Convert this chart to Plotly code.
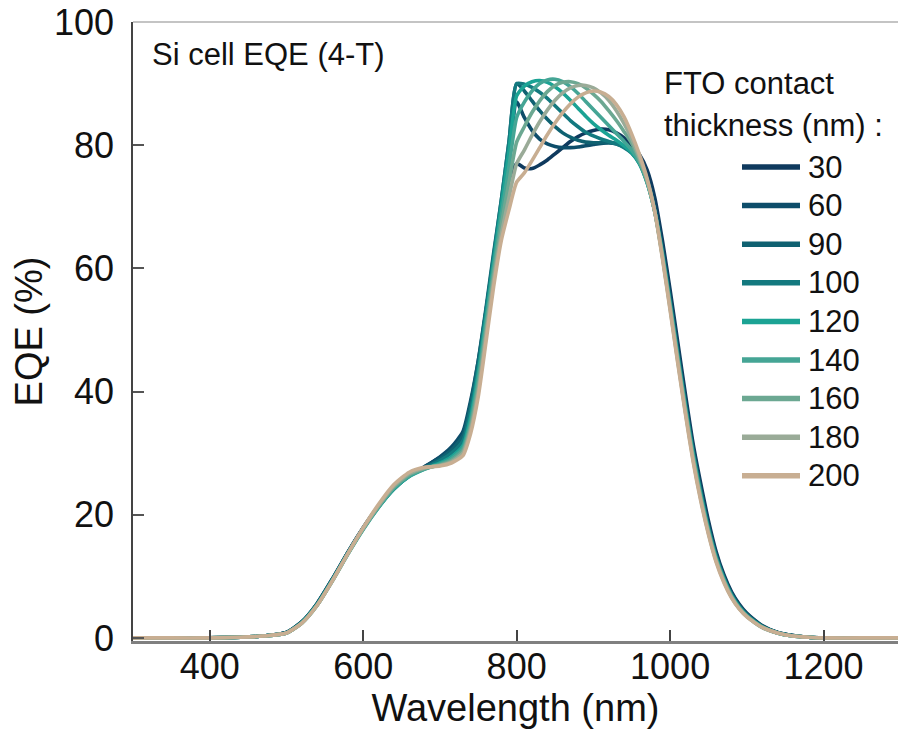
import plotly.graph_objects as go

# ---------------- data ----------------
wavelength = [300, 350, 400, 440, 470, 500, 520, 540, 560, 580, 600, 620, 640, 660, 680, 700,
              715, 730, 740, 750, 760, 770, 780, 790,
              800, 810, 820, 830, 840, 850, 860, 870, 880, 890, 900, 910, 920, 930, 940, 950,
              960, 970, 980, 990, 1000, 1010, 1020, 1030, 1040, 1050, 1060, 1070, 1080, 1090,
              1100, 1120, 1140, 1160, 1180, 1200, 1250, 1300]

thickness = ["30", "60", "90", "100", "120", "140", "160", "180", "200"]
colors = ["#0f3a5e", "#0d4d6a", "#0f6171", "#13797f", "#1ba394", "#45a595", "#6ca892", "#9aab98", "#c8ae92"]

eqe_30 = [0, 0, 0, 0.1, 0.3, 0.9, 2.6, 5.6, 9.6, 13.9, 17.9, 21.4, 24.3, 26.4, 27.8, 29.3,
          30.8, 33.2, 37.8, 44.0, 52.0, 60.0, 67.5, 74.5,
          77.0, 76.3, 76.2, 76.8, 77.6, 78.6, 79.6, 80.6, 81.4, 82.0, 82.4, 82.6, 82.5, 82.0, 81.2, 80.0,
          78.5, 76.0, 71.5, 64.5, 56.5, 48.0, 39.5, 31.5, 25.0, 19.0, 14.0, 10.3, 7.5, 5.5,
          4.0, 2.0, 0.9, 0.4, 0.1, 0, 0, 0]
eqe_60 = [0, 0, 0, 0.1, 0.3, 0.9, 2.6, 5.6, 9.6, 13.9, 17.9, 21.4, 24.3, 26.4, 27.8, 29.4,
          31.0, 33.5, 38.5, 45.0, 53.0, 61.5, 69.5, 77.5,
          87.0, 84.5, 82.4, 81.0, 80.2, 79.8, 79.6, 79.6, 79.7, 79.9, 80.1, 80.3, 80.4, 80.3, 79.9, 79.2,
          77.8, 74.8, 70.2, 63.5, 55.5, 47.0, 38.5, 30.8, 24.2, 18.4, 13.6, 10.0, 7.3, 5.3,
          3.9, 1.9, 0.9, 0.4, 0.1, 0, 0, 0]
eqe_90 = [0, 0, 0, 0.1, 0.3, 0.9, 2.6, 5.5, 9.5, 13.8, 17.8, 21.3, 24.2, 26.3, 27.7, 29.1,
          30.5, 32.8, 38.0, 45.0, 53.5, 62.5, 71.0, 80.5,
          90.0, 88.8, 87.2, 85.6, 84.2, 83.0, 82.0, 81.3, 80.8, 80.5, 80.4, 80.4, 80.4, 80.2, 79.7, 78.8,
          77.2, 74.2, 69.6, 62.8, 54.8, 46.3, 38.0, 30.3, 23.8, 18.0, 13.3, 9.8, 7.1, 5.2,
          3.8, 1.9, 0.9, 0.4, 0.1, 0, 0, 0]
eqe_100 = [0, 0, 0, 0.1, 0.3, 0.8, 2.5, 5.5, 9.5, 13.8, 17.8, 21.3, 24.2, 26.3, 27.6, 28.8,
           30.0, 32.0, 37.0, 44.0, 53.0, 62.0, 71.0, 80.5,
           90.0, 89.9, 89.4, 88.6, 87.6, 86.4, 85.2, 84.0, 83.0, 82.1, 81.5, 81.0, 80.6, 80.2, 79.6, 78.7,
           77.0, 74.0, 69.3, 62.5, 54.5, 46.0, 37.7, 30.0, 23.5, 17.8, 13.2, 9.7, 7.0, 5.1,
           3.7, 1.8, 0.8, 0.3, 0.1, 0, 0, 0]
eqe_120 = [0, 0, 0, 0.1, 0.3, 0.8, 2.5, 5.4, 9.4, 13.7, 17.7, 21.2, 24.2, 26.2, 27.4, 28.4,
           29.4, 31.2, 35.8, 43.0, 52.0, 61.0, 70.0, 79.0,
           88.0, 89.6, 90.3, 90.5, 90.2, 89.5, 88.5, 87.3, 86.0, 84.7, 83.5, 82.5, 81.6, 80.8, 79.9, 78.8,
           77.0, 73.9, 69.2, 62.3, 54.2, 45.8, 37.5, 29.8, 23.3, 17.6, 13.0, 9.6, 6.9, 5.0,
           3.6, 1.8, 0.8, 0.3, 0.1, 0, 0, 0]
eqe_140 = [0, 0, 0, 0.1, 0.3, 0.8, 2.4, 5.3, 9.3, 13.6, 17.6, 21.2, 24.3, 26.3, 27.4, 28.2,
           29.1, 30.8, 35.0, 42.0, 51.0, 60.0, 68.5, 76.5,
           84.5, 87.0, 88.8, 90.0, 90.6, 90.7, 90.3, 89.5, 88.4, 87.1, 85.8, 84.5, 83.2, 81.9, 80.6, 79.2,
           77.2, 74.0, 69.2, 62.2, 54.0, 45.5, 37.2, 29.5, 23.0, 17.4, 12.8, 9.4, 6.8, 4.9,
           3.6, 1.8, 0.8, 0.3, 0.1, 0, 0, 0]
eqe_160 = [0, 0, 0, 0.1, 0.3, 0.8, 2.4, 5.3, 9.3, 13.6, 17.7, 21.4, 24.5, 26.5, 27.5, 28.1,
           28.8, 30.4, 34.4, 41.0, 50.0, 59.0, 67.0, 74.0,
           80.5, 83.0, 85.3, 87.2, 88.7, 89.7, 90.2, 90.3, 90.0, 89.3, 88.3, 87.1, 85.6, 84.0, 82.2, 80.3,
           77.6, 74.2, 69.2, 62.0, 53.8, 45.2, 36.9, 29.2, 22.7, 17.2, 12.6, 9.3, 6.7, 4.8,
           3.5, 1.7, 0.8, 0.3, 0.1, 0, 0, 0]
eqe_180 = [0, 0, 0, 0.1, 0.3, 0.8, 2.4, 5.3, 9.3, 13.7, 17.8, 21.5, 24.7, 26.7, 27.6, 28.0,
           28.6, 30.0, 33.8, 40.0, 49.0, 58.0, 65.5, 71.5,
           77.0, 79.2, 81.6, 83.8, 85.7, 87.3, 88.5, 89.3, 89.7, 89.7, 89.3, 88.5, 87.3, 85.6, 83.5, 81.0,
           78.0, 74.4, 69.2, 61.8, 53.5, 44.9, 36.6, 28.9, 22.5, 17.0, 12.5, 9.2, 6.6, 4.8,
           3.5, 1.7, 0.8, 0.3, 0.1, 0, 0, 0]
eqe_200 = [0, 0, 0, 0.1, 0.3, 0.8, 2.4, 5.3, 9.3, 13.7, 17.9, 21.7, 24.9, 26.9, 27.7, 27.9,
           28.4, 29.6, 33.2, 39.2, 48.0, 57.0, 64.5, 69.5,
           74.0, 75.5, 77.5, 79.6, 81.7, 83.6, 85.3, 86.7, 87.8, 88.5, 88.8, 88.6, 87.9, 86.6, 84.6, 81.8,
           78.5, 74.6, 69.2, 61.6, 53.2, 44.6, 36.3, 28.6, 22.2, 16.8, 12.3, 9.0, 6.5, 4.7,
           3.4, 1.7, 0.8, 0.3, 0.1, 0, 0, 0]

series = [eqe_30, eqe_60, eqe_90, eqe_100, eqe_120, eqe_140, eqe_160, eqe_180, eqe_200]

x_ticks = [400, 600, 800, 1000, 1200]
y_ticks = [0, 20, 40, 60, 80, 100]

# ---------------- layout geometry ----------------
W, H = 898, 755
ML, MR, MT, MB = 133, 0, 22, 114
PW, PH = W - ML - MR, H - MT - MB
FONT = "Liberation Sans, Arial, sans-serif"


def px_x(p):
    return (p - ML) / PW


def px_y(p):
    return (H - MB - p) / PH


fig = go.Figure()
for name, vals, col in zip(thickness, series, colors):
    fig.add_trace(go.Scatter(x=wavelength, y=vals, mode="lines", name=name,
                             line=dict(color=col, width=3.6, shape="spline", smoothing=0.6),
                             showlegend=False))

shapes = []
annotations = []
# top frame line
shapes.append(dict(type="line", xref="paper", yref="paper", x0=0, x1=1, y0=1, y1=1,
                   line=dict(color="#8a8a8a", width=1.2)))

# manual legend
row0, dy = 167, 38.6
for i, (name, col) in enumerate(zip(thickness, colors)):
    yy = px_y(row0 + i * dy)
    shapes.append(dict(type="line", xref="paper", yref="paper", x0=px_x(742), x1=px_x(800),
                       y0=yy, y1=yy, line=dict(color=col, width=5.5)))
    annotations.append(dict(xref="paper", yref="paper", x=px_x(806), y=yy, text=name,
                            showarrow=False, xanchor="left", yanchor="middle",
                            font=dict(family=FONT, size=31, color="#111")))
annotations.append(dict(xref="paper", yref="paper", x=px_x(662), y=px_y(83), text="FTO contact",
                        showarrow=False, xanchor="left", yanchor="middle",
                        font=dict(family=FONT, size=31, color="#111")))
annotations.append(dict(xref="paper", yref="paper", x=px_x(662), y=px_y(125), text="thickness (nm) :",
                        showarrow=False, xanchor="left", yanchor="middle",
                        font=dict(family=FONT, size=31, color="#111")))
annotations.append(dict(xref="paper", yref="paper", x=px_x(150), y=px_y(54), text="Si cell EQE (4-T)",
                        showarrow=False, xanchor="left", yanchor="middle",
                        font=dict(family=FONT, size=31, color="#111")))

fig.update_layout(
    width=W, height=H,
    margin=dict(l=ML, r=MR, t=MT, b=MB, pad=0),
    paper_bgcolor="white", plot_bgcolor="white",
    shapes=shapes, annotations=annotations,
    font=dict(family=FONT, color="#111"),
)
fig.update_xaxes(range=[300, 1297], tickvals=x_ticks, ticks="inside", ticklen=11, tickwidth=1.5,
                 tickcolor="#444", showline=True, linecolor="#808080", linewidth=2.5,
                 showgrid=False, zeroline=False, ticklabelstandoff=-8,
                 tickfont=dict(family=FONT, size=36, color="#111"),
                 title=dict(text="Wavelength (nm)", font=dict(family=FONT, size=38, color="#111"),
                            standoff=0))
fig.update_yaxes(range=[-0.5, 100], tickvals=y_ticks, ticks="inside", ticklen=11, tickwidth=1.5,
                 tickcolor="#555", showline=True, linecolor="#444", linewidth=1.5,
                 showgrid=False, zeroline=False, ticklabelstandoff=10,
                 tickfont=dict(family=FONT, size=36, color="#111"),
                 title=dict(text="EQE (%)", font=dict(family=FONT, size=38, color="#111"),
                            standoff=0))

fig.write_html("out.html")
